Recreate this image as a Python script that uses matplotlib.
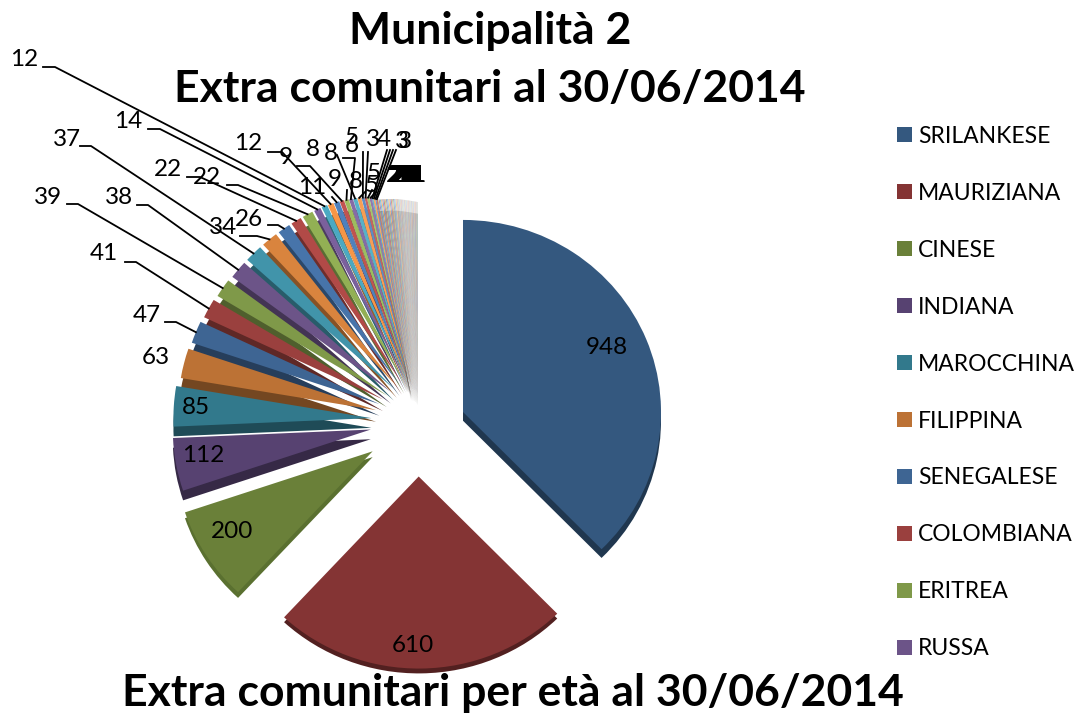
import math
import numpy as np
import matplotlib
matplotlib.use("Agg")
import matplotlib.pyplot as plt
from matplotlib.colors import to_rgb

W, H = 1075, 715
SQUASH = 0.97   # the pie is slightly tilted

nomi = ["SRILANKESE", "MAURIZIANA", "CINESE", "INDIANA", "MAROCCHINA",
        "FILIPPINA", "SENEGALESE", "COLOMBIANA", "ERITREA", "RUSSA"]
valori = [948, 610, 200, 112, 85, 63, 47, 41, 39, 38, 37, 34, 26, 22, 22, 14,
          12, 12, 11, 9, 9, 8, 8, 8, 6, 5, 5, 5, 3, 4, 3, 3,
          2, 2, 2, 2, 2, 2, 2, 2, 2, 2, 2, 2, 2, 2, 2, 2,
          1, 1, 1, 1, 1, 1, 1, 1, 1, 1, 1, 1, 1, 1, 1, 1, 1, 1,
          1, 1, 1, 1, 1, 1, 1, 1, 1, 1, 1, 1, 1, 1, 1, 1, 1, 1]

# label centres in picture pixels
label_pos = [(607, 348), (413, 646), (232, 532), (203, 456), (196, 408), (156, 358),
             (147, 315), (104, 254), (48, 197), (119, 197), (67, 139), (223, 228),
             (249, 219), (168, 170), (207, 178), (128, 121), (24, 60), (248, 144),
             (312, 188), (286, 157), (335, 180), (313, 149), (331, 153), (356, 182),
             (352, 146), (352, 138), (374, 174), (372, 185), (373, 140), (384, 140),
             (402, 141), (405, 141)]
# where each leader line leaves its label, None = no leader, last item = horizontal stub
leader_start = [None, None, None, None, None, None,
                (165, 322, 11), (125, 262, 11), (67, 204, 11), (137, 205, 11),
                (80, 146, 11), (240, 236, 17), (268, 225, 10), (187, 177, 13),
                (227, 185, 11), (148, 129, 12), (43, 67, 12), (268, 152, 14),
                (332, 197, 0), (297, 166, 13), (347, 190, 0), (343, 158, 12),
                (337, 155, 0), (365, 192, 0), (363, 152, 0), (368, 152, 0),
                (372, 190, 0), (376, 192, 0), (387, 150, 0), (390, 150, 0),
                (393, 150, 0), (396, 150, 0)]

base = ["#4F81BD", "#C0504D", "#9BBB59", "#8064A2", "#4BACC6", "#F79646"]
primi = ["#34587F", "#843434", "#6A8039", "#574271", "#32798C"]


def shade(i):
    if i < len(primi):
        return to_rgb(primi[i])
    c = np.array(to_rgb(base[i % 6]))
    if i < 18:
        return tuple(c * (0.66 + 0.34 * i / 17))
    t = min((i - 18) / 40, 1) * 0.6
    return tuple(c + (1 - c) * t)


def darker(col):
    return tuple(np.array(col) * 0.62)


def xy(px, py):
    return px, (H - py) / SQUASH


colori = [shade(i) for i in range(len(valori))]
colori_lato = [darker(c) for c in colori]
colori_lato[2] = "#5A7030"

esplodi = np.concatenate([[48, 50, 48, 48, 48], np.linspace(46, 37, len(valori) - 5)])
# thickness of the side of each slice, the big ones are seen almost flat
spessore = [9, 5, 6, 10, 10] + [12] * (len(valori) - 5)

plt.rcParams["font.family"] = ["Lato", "DejaVu Sans"]
fig = plt.figure(figsize=(W / 100, H / 100), dpi=100)
ax = fig.add_axes([0, 0, 1, 1])

R = 198
centro = xy(418, 430)
for lato, cols, zbase in [(True, colori_lato, 0), (False, colori, 0.5)]:
    wedges, _ = ax.pie(valori, colors=cols, startangle=90, counterclock=False, radius=R,
                       center=centro, explode=esplodi, frame=True,
                       wedgeprops=dict(linewidth=0))
    for i, w in enumerate(wedges):
        w.set_zorder(200 - i + zbase)
        # the perspective packs the fan up and to the right of a plain pie
        sx = np.interp(i, [3, 9, 16, 32], [0, 8, 8, 0])
        sy = np.interp(i, [3, 5, 9, 16, 32], [9, 9, 10, 10, 0])
        cx, cy = w.center
        if i == 0:
            cx, cy = xy(463, 412)
            sx, sy = 0, 0
        elif i == 1:
            sx, sy = 0, 2
        elif i == 2:
            sx, sy = -5, 4
        w.set_center((cx + sx, cy + sy / SQUASH - (spessore[i] if lato else 0)))

ax.set_aspect("auto")
ax.set_xlim(0, W)
ax.set_ylim(0, H / SQUASH)
ax.axis("off")

for i, w in enumerate(wedges):
    if i < len(label_pos):
        lx, ly = xy(*label_pos[i])
        ax.text(lx, ly, str(valori[i]), fontsize=17.5, color="black", ha="center", va="center", zorder=400)
        if leader_start[i] is not None:
            sx, sy, stub = leader_start[i]
            ang = math.radians((w.theta1 + w.theta2) / 2)
            ex = w.center[0] + R * math.cos(ang)
            ey = w.center[1] + R * math.sin(ang)
            x0, y0 = xy(sx, sy)
            x1, y1 = xy(sx + stub, sy)
            ax.plot([x0, x1, ex], [y0, y1, ey], color="black", lw=1.3, zorder=300)
    else:
        # the tiny slices: labels pile up into a black smudge
        lx, ly = xy(393 + (i - len(label_pos)) * 0.5, 176)
        ax.text(lx, ly, str(valori[i]), fontsize=17.5, color="black", ha="center", va="center", zorder=400)

ax.text(*xy(490, 31), "Municipalità 2", fontsize=32, fontweight="bold", ha="center", va="center", zorder=500)
ax.text(*xy(490, 89), "Extra comunitari al 30/06/2014", fontsize=32, fontweight="bold", ha="center", va="center", zorder=500)
ax.text(*xy(513, 693), "Extra comunitari per età al 30/06/2014", fontsize=32, fontweight="bold", ha="center", va="center", zorder=500)

leg = ax.legend(wedges[:10], nomi, loc="upper left", bbox_to_anchor=(876 / W, 1 - 105 / H),
                bbox_transform=fig.transFigure, frameon=False, fontsize=16.5, ncol=1,
                handlelength=0.65, handleheight=0.65, handletextpad=0.27, labelspacing=1.57)

fig.savefig("out.png", dpi=100)
